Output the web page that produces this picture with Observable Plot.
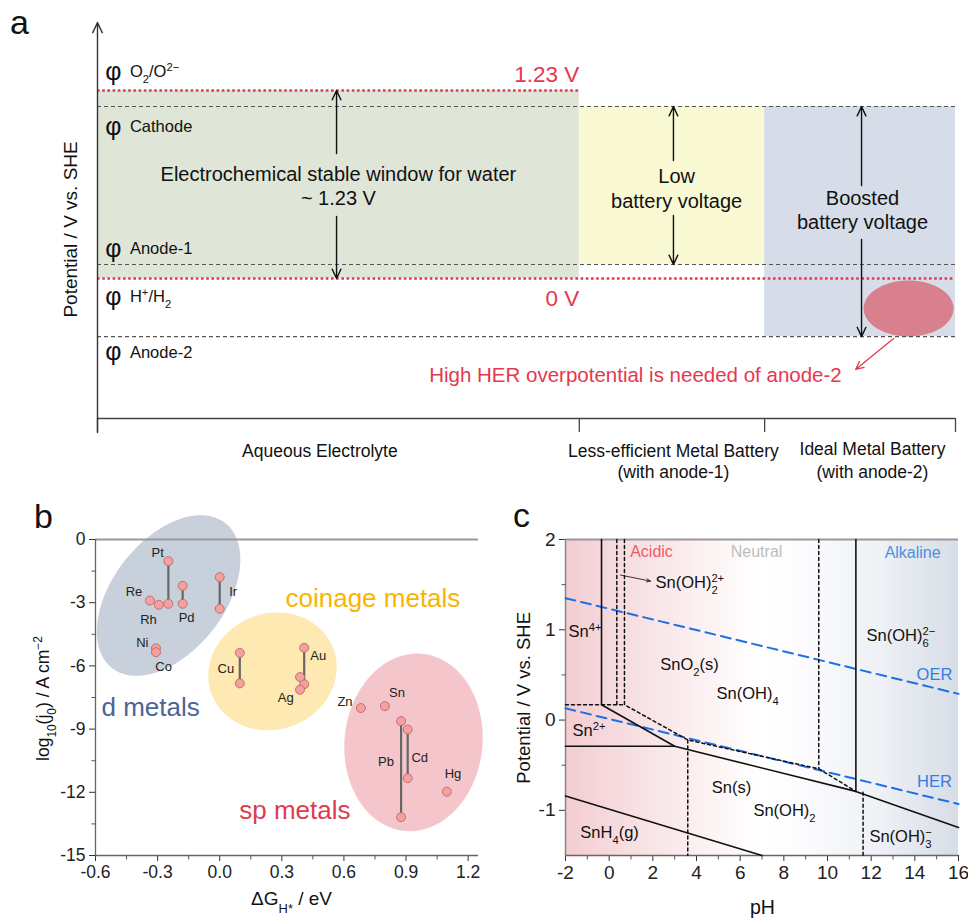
<!DOCTYPE html>
<html><head><meta charset="utf-8">
<script src="https://cdn.jsdelivr.net/npm/d3@7"></script>
<script src="https://cdn.jsdelivr.net/npm/@observablehq/plot@0.6"></script>
<style>
html,body{margin:0;padding:0;background:#fff;}
#fig{position:relative;width:968px;height:918px;overflow:hidden;font-family:"Liberation Sans",Arial,Helvetica,sans-serif;color:#111;}
.panel{position:absolute;}
.letter{position:absolute;font-size:34px;line-height:34px;color:#111;}
#pb g[aria-label*="axis"] text{font-size:17.5px !important;fill:#222;}
#pc g[aria-label*="axis"] text{font-size:19px !important;fill:#222;}
</style></head><body>
<svg width="0" height="0" style="position:absolute">
<defs><linearGradient id="phGrad" x1="0" y1="0" x2="1" y2="0">
<stop offset="0" stop-color="#f2ccd1"/>
<stop offset="0.12" stop-color="#f6dadd"/>
<stop offset="0.35" stop-color="#fcf1f2"/>
<stop offset="0.5" stop-color="#ffffff"/>
<stop offset="0.62" stop-color="#fbfbfd"/>
<stop offset="0.8" stop-color="#eef1f5"/>
<stop offset="1" stop-color="#d7dde7"/>
</linearGradient></defs></svg>
<div id="fig">
 <div id="pa" class="panel" style="left:0;top:0;width:968px;height:490px"></div>
 <div id="pb" class="panel" style="left:0;top:495px;width:484px;height:423px"></div>
 <div id="pc" class="panel" style="left:484px;top:495px;width:484px;height:423px"></div>
 <div class="letter" style="left:10px;top:5px">a</div>
 <div class="letter" style="left:34px;top:499px">b</div>
 <div class="letter" style="left:513px;top:498px">c</div>
</div>
<script>
// ---------------- Panel a data ----------------
const regionNames = ["Aqueous Electrolyte", "Less-efficient Metal Battery", "Ideal Metal Battery"];
const regionSubNames = ["", "(with anode-1)", "(with anode-2)"];
const regionStart = [0, 2.6, 3.6];
const regionEnd = [2.6, 3.6, 4.63];
const regionTop = [1.23, 1.125, 1.125];
const regionBottom = [0, 0.092, -0.38];
const regionLabelX = [1.20, 3.108, 4.182];
const regionLabelY = [-1.132, -1.128, -1.119];
const regionSubY = [null, -1.269, -1.269];
const regionBounds = [0, 2.6, 3.6, 4.63];

const levelNames = ["O_{2}/O^{2−}", "Cathode", "Anode-1", "H^{+}/H_{2}", "Anode-2"];
const levelValues = [1.23, 1.125, 0.092, 0, -0.38];
const levelEnd = [2.6, 4.63, 4.63, 4.63, 4.63];
const levelKind = ["ref", "electrode", "electrode", "ref", "electrode"];
const levelLabelY = [1.354, 0.994, 0.196, -0.118, -0.484];

const refLabels = ["1.23 V", "0 V"];
const refLabelY = [1.335, -0.131];

const arrowX = [1.29, 1.29, 3.108, 3.108, 4.123, 4.123];
const arrowFrom = [0.818, 0.406, 0.772, 0.412, 0.608, 0.255];
const arrowTo = [1.23, 0, 1.125, 0.092, 1.125, -0.38];

const boxText = ["Electrochemical stable window for water", "~ 1.23 V", "Low", "battery voltage", "Boosted", "battery voltage"];
const boxTextX = [1.30, 1.30, 3.125, 3.125, 4.128, 4.128];
const boxTextY = [0.680, 0.523, 0.667, 0.504, 0.523, 0.366];

const herNote = "High HER overpotential is needed of anode-2";
const herNoteXY = [2.903, -0.635];
const herBlobXY = [4.377, -0.196];
const herArrow = [4.296, -0.393, 4.091, -0.595];
const potentialDomain = [-0.916, 1.675];
const potentialTickEnd = -1.008;

// ---------------- Panel b data ----------------
const pairNames = ["Pt", "Pd", "Ir", "Cu", "Au", "Pb", "Cd"];
const pairDG = [-0.248, -0.179, 0.0, 0.097, 0.408, 0.876, 0.908];
const pairHigh = [-1.03, -2.2, -1.79, -5.38, -5.14, -8.62, -9.02];
const pairLow = [-3.05, -3.05, -3.29, -6.83, -6.87, -13.18, -11.33];
const singleNames = ["Re", "Rh", "Ni", "Co", "Ag", "Ag", "Zn", "Sn", "Hg"];
const singleDG = [-0.337, -0.294, -0.308, -0.308, 0.388, 0.388, 0.682, 0.798, 1.097];
const singleJ = [-2.9, -3.1, -5.16, -5.35, -6.53, -7.13, -8.0, -7.91, -11.97];
const metalLabels = ["Pt", "Re", "Rh", "Pd", "Ir", "Ni", "Co", "Cu", "Au", "Ag", "Zn", "Sn", "Pb", "Cd", "Hg"];
const metalLabelX = [-0.30, -0.414, -0.344, -0.16, 0.065, -0.374, -0.271, 0.03, 0.476, 0.319, 0.605, 0.856, 0.803, 0.966, 1.127];
const metalLabelY = [-0.63, -2.47, -3.8, -3.73, -2.5, -4.89, -6.04, -6.15, -5.5, -7.53, -7.69, -7.28, -10.57, -10.35, -11.12];
const groupNames = ["d metals", "coinage metals", "sp metals"];
const groupCenterX = [-0.247, 0.255, 0.936];
const groupCenterY = [-2.66, -6.26, -9.63];
const groupLabelX = [-0.334, 0.74, 0.363];
const groupLabelY = [-7.96, -2.8, -12.86];
const dgTicks = [-0.6, -0.3, 0.0, 0.3, 0.6, 0.9, 1.2];
const dgMinor = [-0.45, -0.15, 0.15, 0.45, 0.75, 1.05];
const jTicks = [0, -3, -6, -9, -12, -15];
const jMinor = [-1.5, -4.5, -7.5, -10.5, -13.5];

// ---------------- Panel c data ----------------
const snBoundary = [[-0.35, 2], [-0.35, 0.17], [3.0, -0.29], [11.3, -0.79], [16, -1.19]];
const sn2Boundary = [[-2, -0.29], [3.0, -0.29]];
const alkBoundary = [[11.3, 2], [11.3, -0.79]];
const snh4Boundary = [[-2, -0.84], [7.0, -1.5]];
const dashedA = [[-2, 0.17], [0.7, 0.17]];
const dashedB = [[0.35, 2], [0.35, 0.17]];
const dashedC = [[0.7, 2], [0.7, 0.17], [3.6, -0.22], [9.6, -0.54], [11.3, -0.79]];
const dashedD = [[3.6, -0.22], [3.6, -1.5]];
const dashedE = [[9.6, 2], [9.6, -0.54]];
const dashedF = [[11.63, -0.8], [11.63, -1.5]];
const oerLine = [[-2, 1.35], [16, 0.29]];
const herLine = [[-2, 0.13], [16, -0.93]];
const speciesNames = ["Sn(OH)_{2}^{2+}", "Sn^{4+}", "SnO_{2}(s)", "Sn(OH)_{4}", "Sn(OH)_{6}^{2−}", "Sn^{2+}", "Sn(s)", "Sn(OH)_{2}", "SnH_{4}(g)", "Sn(OH)_{3}^{−}"];
const speciesX = [2.12, -1.86, 3.68, 6.34, 11.79, -1.68, 5.6, 8.03, 0.02, 13.35];
const speciesY = [1.517, 0.98, 0.61, 0.29, 0.93, -0.12, -0.75, -1.0, -1.25, -1.29];
const speciesAnchor = ["start", "start", "middle", "middle", "start", "start", "middle", "middle", "middle", "middle"];
const phRegionNames = ["Acidic", "Neutral", "Alkaline"];
const phRegionX = [1.94, 6.75, 13.9];
const phRegionY = [1.86, 1.86, 1.85];
const reactionNames = ["OER", "HER"];
const reactionX = [14.9, 14.9];
const reactionY = [0.50, -0.68];
const pointerArrow = [0.52, 1.606, 1.894, 1.539];
const phTicks = [-2, 0, 2, 4, 6, 8, 10, 12, 14, 16];
const phMinor = [-1, 1, 3, 5, 7, 9, 11, 13, 15];
const eTicks = [-1, 0, 1, 2];
const eMinor = [-0.5, 0.5, 1.5];

// ---------------- helpers ----------------
const FONT = '"Liberation Sans", Arial, Helvetica, sans-serif';
const baseStyle = {fontFamily: FONT, background: "transparent", overflow: "visible", color: "#333"};
const idx = a => a.map((_, i) => i);

function ellipseSymbol(rx, ry, deg) {
  const t = deg * Math.PI / 180, c = Math.cos(t), s = Math.sin(t);
  return {draw(ctx) {
    const n = 90;
    for (let i = 0; i <= n; ++i) {
      const a = 2 * Math.PI * i / n, ex = rx * Math.cos(a), ey = ry * Math.sin(a);
      const X = ex * c - ey * s, Y = ex * s + ey * c;
      if (i === 0) ctx.moveTo(X, Y); else ctx.lineTo(X, Y);
    }
    ctx.closePath();
  }};
}
const vTick = len => ({draw(ctx) { ctx.moveTo(0, 0); ctx.lineTo(0, len); }});
const hTick = len => ({draw(ctx) { ctx.moveTo(0, 0); ctx.lineTo(-len, 0); }});

function enrich(svg) {
  const ns = "http://www.w3.org/2000/svg";
  svg.querySelectorAll("text").forEach(el => {
    if (el.children.length) return;
    const s = el.textContent;
    if (!/[_^]\{/.test(s)) return;
    el.textContent = "";
    const re = /([_^])\{([^}]*)\}/g;
    let last = 0, m, prevSubLen = 0;
    const plain = str => { const t = document.createElementNS(ns, "tspan"); t.textContent = str; el.appendChild(t); };
    while ((m = re.exec(s))) {
      if (m.index > last) { plain(s.slice(last, m.index)); prevSubLen = 0; }
      const t = document.createElementNS(ns, "tspan");
      t.textContent = m[2];
      t.setAttribute("font-size", "68%");
      if (m[1] === "_") {
        t.setAttribute("baseline-shift", "sub");
        prevSubLen = m[2].length;
      } else {
        t.setAttribute("baseline-shift", "super");
        if (prevSubLen) t.setAttribute("dx", `${-0.556 * prevSubLen}em`);
        prevSubLen = 0;
      }
      el.appendChild(t);
      last = re.lastIndex;
    }
    if (last < s.length) plain(s.slice(last));
  });
  return svg;
}

// ---------------- Panel a ----------------
const regionFills = ["#dfe6d7", "#f9f9d3", "#d6dde9"];
const RED = "#e5384f";
const refIdx = idx(levelNames).filter(i => levelKind[i] === "ref");
const elecIdx = idx(levelNames).filter(i => levelKind[i] === "electrode");
const pa = Plot.plot({
  width: 968, height: 490, marginLeft: 97, marginRight: 13, marginTop: 22, marginBottom: 72,
  x: {domain: [0, 4.63], axis: null},
  y: {domain: potentialDomain, axis: null},
  color: {type: "identity"},
  style: baseStyle,
  marks: [
    Plot.rect(idx(regionNames), {x1: i => regionStart[i], x2: i => regionEnd[i], y1: i => regionBottom[i], y2: i => regionTop[i], fill: i => regionFills[i]}),
    Plot.dot([0], {x: herBlobXY[0], y: herBlobXY[1], symbol: ellipseSymbol(45, 28, 0), fill: "#d9808e", stroke: "none"}),
    Plot.ruleY(elecIdx, {y: i => levelValues[i], x1: 0, x2: i => levelEnd[i], stroke: "#555", strokeWidth: 1.1, strokeDasharray: "4,3"}),
    Plot.ruleY(refIdx, {y: i => levelValues[i], x1: 0, x2: i => levelEnd[i], stroke: RED, strokeWidth: 2.6, strokeDasharray: "2.6,2.6"}),
    Plot.ruleX(regionBounds, {x: d => d, y1: potentialDomain[0], y2: potentialTickEnd, stroke: "#444", strokeWidth: 1.3}),
    Plot.ruleY([potentialDomain[0]], {x1: 0, x2: 4.63, stroke: "#444", strokeWidth: 1.3}),
    Plot.arrow([0], {x1: 0, y1: potentialTickEnd, x2: 0, y2: potentialDomain[1], stroke: "#333", strokeWidth: 1.4, headLength: 12, headAngle: 50}),
    Plot.arrow(idx(arrowX), {x1: i => arrowX[i], x2: i => arrowX[i], y1: i => arrowFrom[i], y2: i => arrowTo[i], stroke: "#111", strokeWidth: 1.4, headLength: 11, headAngle: 50}),
    Plot.arrow([0], {x1: herArrow[0], y1: herArrow[1], x2: herArrow[2], y2: herArrow[3], stroke: RED, strokeWidth: 1.3, headLength: 10, headAngle: 50}),
    Plot.text(idx(levelNames), {x: 0.086, y: i => levelLabelY[i], text: () => "φ", fontSize: 25, fill: "#111"}),
    Plot.text(idx(levelNames), {x: 0.175, y: i => levelLabelY[i], text: i => levelNames[i], textAnchor: "start", fontSize: 16.5, fill: "#111"}),
    Plot.text(idx(refLabels), {x: 2.6, y: i => refLabelY[i], text: i => refLabels[i], textAnchor: "end", fontSize: 22.5, fill: RED}),
    Plot.text(idx(boxText), {x: i => boxTextX[i], y: i => boxTextY[i], text: i => boxText[i], fontSize: 20, fill: "#111"}),
    Plot.text([herNote], {x: herNoteXY[0], y: herNoteXY[1], text: d => d, fontSize: 20.5, fill: RED}),
    Plot.text(idx(regionNames), {x: i => regionLabelX[i], y: i => regionLabelY[i], text: i => regionNames[i], fontSize: 17.5, fill: "#111"}),
    Plot.text(idx(regionNames).filter(i => regionSubNames[i]), {x: i => regionLabelX[i], y: i => regionSubY[i], text: i => regionSubNames[i], fontSize: 17.5, fill: "#111"}),
    Plot.text(["Potential / V vs. SHE"], {x: -0.146, y: 0.321, text: d => d, rotate: -90, fontSize: 19, fill: "#111"})
  ]
});
document.getElementById("pa").appendChild(enrich(pa));

// ---------------- Panel b ----------------
const groupFills = ["#c8d0dc", "#fde9b1", "#f4c6cb"];
const groupShapes = [[92, 56, -52], [65, 58, -20], [69, 89, 6]];
const groupColors = ["#4b6494", "#f7b500", "#e03a50"];
const points = [
  ...pairNames.flatMap((n, i) => [[pairDG[i], pairHigh[i]], [pairDG[i], pairLow[i]]]),
  ...singleNames.map((n, i) => [singleDG[i], singleJ[i]])
];
const pb = Plot.plot({
  width: 484, height: 423, marginLeft: 95, marginRight: 6, marginTop: 44, marginBottom: 63,
  x: {domain: [-0.6, 1.25], ticks: dgTicks, tickFormat: d => d.toFixed(1), tickSize: 6, tickPadding: 4, label: null},
  y: {domain: [-15, 0], ticks: jTicks, tickFormat: d => `${d}`, tickSize: 6, tickPadding: 4, label: null},
  color: {type: "identity"},
  style: {...baseStyle, fontSize: "17.5px"},
  marks: [
    ...idx(groupNames).map(i => Plot.dot([i], {x: groupCenterX[i], y: groupCenterY[i], symbol: ellipseSymbol(...groupShapes[i]), fill: groupFills[i], stroke: "none"})),
    Plot.ruleY([0], {stroke: "#999", strokeWidth: 2}),
    Plot.ruleX([-0.6], {stroke: "#666", strokeWidth: 1.3}),
    Plot.ruleY([-15], {stroke: "#666", strokeWidth: 1.3}),
    Plot.dot(dgMinor, {x: d => d, frameAnchor: "bottom", symbol: vTick(4), stroke: "#555", strokeWidth: 1}),
    Plot.dot(jMinor, {y: d => d, frameAnchor: "left", symbol: hTick(4), stroke: "#555", strokeWidth: 1}),
    Plot.link(idx(pairNames), {x1: i => pairDG[i], x2: i => pairDG[i], y1: i => pairHigh[i], y2: i => pairLow[i], stroke: "#666", strokeWidth: 2.2}),
    Plot.dot(points, {x: d => d[0], y: d => d[1], r: 4.5, fill: "#f4a09f", stroke: "#b86a6a", strokeWidth: 0.9}),
    Plot.text(idx(metalLabels), {x: i => metalLabelX[i], y: i => metalLabelY[i], text: i => metalLabels[i], fontSize: 13, fill: "#222"}),
    Plot.text(idx(groupNames), {x: i => groupLabelX[i], y: i => groupLabelY[i], text: i => groupNames[i], fill: i => groupColors[i], fontSize: 26}),
    Plot.text(["ΔG_{H*} / eV"], {x: 0.347, y: -17.05, text: d => d, fontSize: 19, fill: "#111"}),
    Plot.text(["log_{10}(j_{0}) / A cm^{−2}"], {x: -0.851, y: -7.55, text: d => d, rotate: -90, fontSize: 17.5, fill: "#111"})
  ]
});
document.getElementById("pb").appendChild(enrich(pb));

// ---------------- Panel c ----------------
const phRegionColors = ["#ee5a67", "#bdbdbd", "#4a90e2"];
const solidStyle = {x: d => d[0], y: d => d[1], stroke: "#111", strokeWidth: 1.6};
const dashStyle = {x: d => d[0], y: d => d[1], stroke: "#111", strokeWidth: 1.5, strokeDasharray: "3,3"};
const blueStyle = {x: d => d[0], y: d => d[1], stroke: "#1f6fe5", strokeWidth: 2, strokeDasharray: "10,6"};
const speciesText = anchor => Plot.text(idx(speciesNames).filter(i => speciesAnchor[i] === anchor),
  {x: i => speciesX[i], y: i => speciesY[i], text: i => speciesNames[i], textAnchor: anchor, fontSize: 16.5, fill: "#111"});
const pc = Plot.plot({
  width: 484, height: 423, marginLeft: 81, marginRight: 10, marginTop: 44, marginBottom: 63,
  x: {domain: [-2, 16], ticks: phTicks, tickFormat: d => `${d}`, tickSize: 6, tickPadding: 4, label: null},
  y: {domain: [-1.5, 2], ticks: eTicks, tickFormat: d => `${d}`, tickSize: 6, tickPadding: 4, label: null},
  color: {type: "identity"},
  style: {...baseStyle, fontSize: "19px"},
  marks: [
    Plot.rect([0], {x1: -2, x2: 16, y1: -1.5, y2: 2, fill: "url(#phGrad)"}),
    Plot.ruleY([2], {stroke: "#999", strokeWidth: 2}),
    Plot.ruleX([-2], {stroke: "#888", strokeWidth: 1.5}),
    Plot.ruleY([-1.5], {stroke: "#666", strokeWidth: 1.3}),
    Plot.dot(phMinor, {x: d => d, frameAnchor: "bottom", symbol: vTick(4), stroke: "#555", strokeWidth: 1}),
    Plot.dot(eMinor, {y: d => d, frameAnchor: "left", symbol: hTick(4), stroke: "#555", strokeWidth: 1}),
    Plot.line(oerLine, blueStyle),
    Plot.line(herLine, blueStyle),
    Plot.line(dashedA, dashStyle),
    Plot.line(dashedB, dashStyle),
    Plot.line(dashedC, dashStyle),
    Plot.line(dashedD, dashStyle),
    Plot.line(dashedE, dashStyle),
    Plot.line(dashedF, dashStyle),
    Plot.line(snBoundary, solidStyle),
    Plot.line(sn2Boundary, solidStyle),
    Plot.line(alkBoundary, solidStyle),
    Plot.line(snh4Boundary, solidStyle),
    Plot.arrow([0], {x1: pointerArrow[0], y1: pointerArrow[1], x2: pointerArrow[2], y2: pointerArrow[3], stroke: "#222", strokeWidth: 0.9, headLength: 7, headAngle: 45}),
    Plot.text(idx(phRegionNames), {x: i => phRegionX[i], y: i => phRegionY[i], text: i => phRegionNames[i], fill: i => phRegionColors[i], fontSize: 16}),
    speciesText("start"),
    speciesText("middle"),
    Plot.text(idx(reactionNames), {x: i => reactionX[i], y: i => reactionY[i], text: i => reactionNames[i], fontSize: 16.5, fill: "#2f7de5"}),
    Plot.text(["pH"], {x: 7.02, y: -2.074, text: d => d, fontSize: 19.5, fill: "#111"}),
    Plot.text(["Potential / V vs. SHE"], {x: -3.92, y: 0.246, text: d => d, rotate: -90, fontSize: 18.5, fill: "#111"})
  ]
});
document.getElementById("pc").appendChild(enrich(pc));
</script></body></html>
